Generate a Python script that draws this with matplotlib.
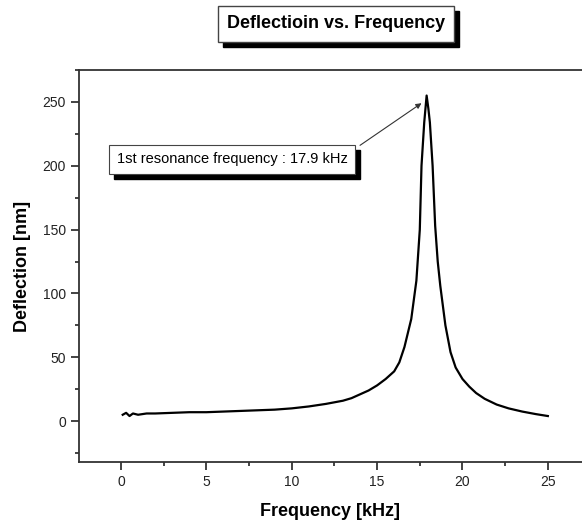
import matplotlib.pyplot as plt
from matplotlib.patches import Rectangle
from matplotlib.ticker import MultipleLocator
from matplotlib.transforms import IdentityTransform

plt.rcParams['font.family'] = ['Liberation Sans', 'DejaVu Sans']

# deflection curve
freq_khz = [0.1, 0.3, 0.5, 0.7, 1.0, 1.5, 2.0, 3.0, 4.0, 5.0, 6.0, 7.0, 8.0,
            9.0, 10.0, 11.0, 12.0, 13.0, 13.5, 14.0, 14.5, 15.0, 15.5, 16.0,
            16.3, 16.6, 17.0, 17.3, 17.5, 17.6, 17.76, 17.9, 18.0, 18.09,
            18.25, 18.4, 18.55, 18.7, 19.0, 19.3, 19.6, 20.0, 20.4, 20.8,
            21.3, 22.0, 22.7, 23.5, 24.3, 25.0]
deflection_nm = [5, 6.5, 4, 6, 5, 6, 6, 6.5, 7, 7, 7.5, 8, 8.5,
                 9, 10, 11.5, 13.5, 16, 18, 21, 24, 28, 33, 39,
                 46, 58, 80, 110, 150, 200, 234, 255, 245, 234,
                 200, 153, 125, 106, 75, 54, 42, 33, 27, 22,
                 17.5, 13, 10, 7.5, 5.5, 4]

title = "Deflectioin vs. Frequency"
note = "1st resonance frequency : 17.9 kHz"

fig = plt.figure(figsize=(5.82, 5.27), dpi=100)
ax = fig.add_axes([79 / 582, 65 / 527, (582 - 79) / 582, (462 - 70) / 527])

ax.plot(freq_khz, deflection_nm, color='black', linewidth=1.6)

ax.set_xlim(-2.46, 27)
ax.set_ylim(-32, 275)
ax.set_autoscale_on(False)
ax.xaxis.set_major_locator(MultipleLocator(5))
ax.xaxis.set_minor_locator(MultipleLocator(2.5))
ax.yaxis.set_major_locator(MultipleLocator(50))
ax.yaxis.set_minor_locator(MultipleLocator(25))
ax.tick_params(which='both', direction='out', top=False, right=False,
               labelsize=10, colors='#222222', width=1.2)
ax.tick_params(which='major', length=6)
ax.tick_params(which='minor', length=3)
for side in ['left', 'bottom', 'top']:
    ax.spines[side].set_linewidth(1.3)
    ax.spines[side].set_color('#333333')
ax.spines['right'].set_visible(False)

ax.set_xlabel("Frequency [kHz]", fontsize=13, fontweight='bold', labelpad=10)
ax.set_ylabel("Deflection [nm]", fontsize=13, fontweight='bold', labelpad=8)

# title and note boxes (white box, black drop shadow added below)
title_txt = fig.text(336 / 582, 1 - 24 / 527, title, ha='center', va='center',
                     fontsize=13, fontweight='bold', zorder=5,
                     bbox=dict(boxstyle='square,pad=0.5', fc='white', ec='#444444', lw=1))
note_txt = ax.text(6.5, 205, note, ha='center', va='center', fontsize=10.5, zorder=5,
                   bbox=dict(boxstyle='square,pad=0.5', fc='white', ec='#444444', lw=0.8))
ax.annotate("", xy=(17.6, 249), xytext=(14.0, 216),
            arrowprops=dict(arrowstyle='-|>', color='#333333', lw=0.8,
                            mutation_scale=8, shrinkA=0, shrinkB=0))

fig.canvas.draw()
renderer = fig.canvas.get_renderer()

bb = title_txt.get_bbox_patch().get_window_extent(renderer)
fig.patches.append(Rectangle((bb.x0 + 5, bb.y0 - 5), bb.width, bb.height,
                             transform=IdentityTransform(), fc='black', ec='black', zorder=4))

bb = note_txt.get_bbox_patch().get_window_extent(renderer)
shadow = Rectangle((bb.x0 + 5, bb.y0 - 5), bb.width, bb.height,
                   transform=IdentityTransform(), fc='black', ec='black', zorder=4)
shadow.set_clip_on(False)
ax.add_artist(shadow)

fig.savefig("out.png", dpi=100)
